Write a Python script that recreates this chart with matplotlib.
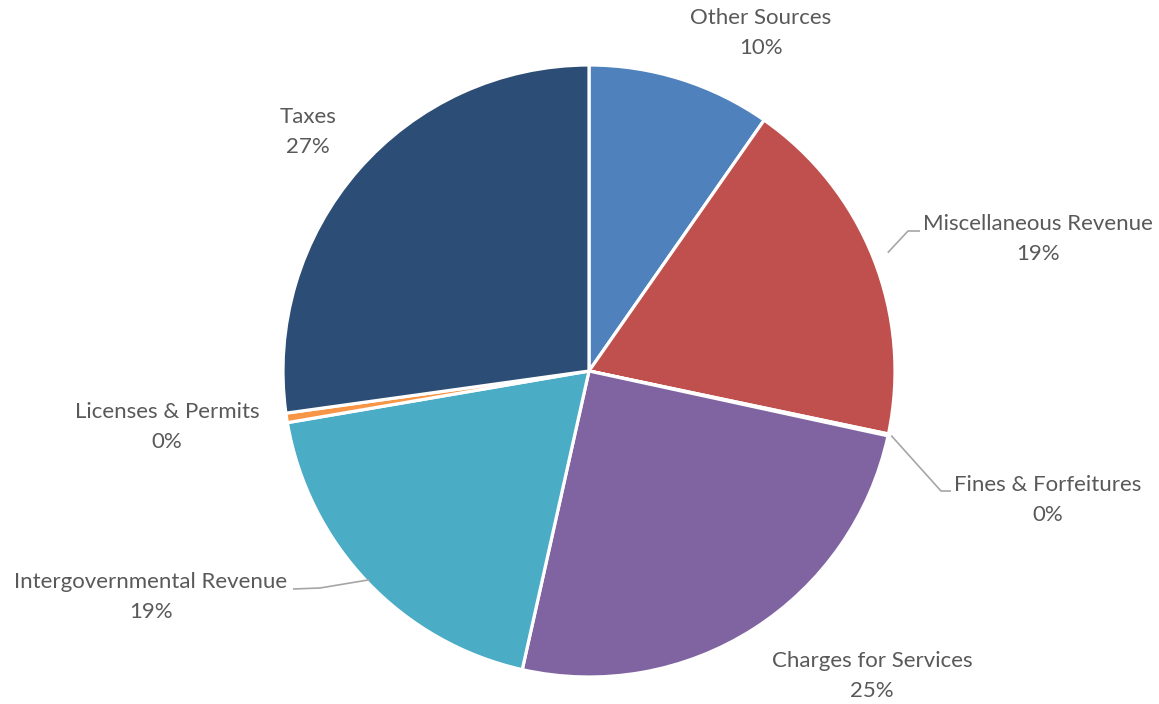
import numpy as np
import matplotlib
matplotlib.use("Agg")
import matplotlib.pyplot as plt

plt.rcParams['font.family'] = ['Lato', 'DejaVu Sans']

# Revenue share by source (percent), clockwise from 12 o'clock
categories = ["Other Sources", "Miscellaneous Revenue", "Fines & Forfeitures",
              "Charges for Services", "Intergovernmental Revenue",
              "Licenses & Permits", "Taxes"]
shares = [9.7, 18.6, 0.1, 25.1, 18.8, 0.5, 27.2]
pct_labels = ["10%", "19%", "0%", "25%", "19%", "0%", "27%"]
colors = ["#4F81BD", "#C0504D", "#9BBB59", "#8064A2", "#4BACC6", "#F79646", "#2C4D75"]

W, H = 1159, 704
fig = plt.figure(figsize=(W / 100, H / 100), dpi=100)
cx, cy, R = 589, 371, 306
ax = fig.add_axes([(cx - R) / W, (H - cy - R) / H, 2 * R / W, 2 * R / H])

ax.pie(shares, colors=colors, startangle=90, counterclock=False, radius=1,
       wedgeprops=dict(edgecolor='white', linewidth=2.3))
ax.set_xlim(-1, 1)
ax.set_ylim(-1, 1)
ax.set_aspect('equal')
ax.axis('off')

def to_data(px, py):
    return (px - cx) / R, (cy - py) / R

# label centres in pixel space
label_pos = {
    "Other Sources": (761, 33),
    "Miscellaneous Revenue": (1038, 239),
    "Fines & Forfeitures": (1048, 500),
    "Charges for Services": (872, 676),
    "Intergovernmental Revenue": (151, 597),
    "Licenses & Permits": (167, 427),
    "Taxes": (308, 132),
}
for cat, pct in zip(categories, pct_labels):
    x, y = to_data(*label_pos[cat])
    ax.text(x, y, f"{cat}\n{pct}", ha='center', va='center', fontsize=16,
            color='#595959', linespacing=1.62, clip_on=False)

# leader lines
cum = np.cumsum([0] + shares) / sum(shares)
def wedge_point(i, frac, r):
    a = 2 * np.pi * (cum[i] + frac * (cum[i + 1] - cum[i]))
    return r * np.sin(a), r * np.cos(a)

line_kw = dict(color='#A6A6A6', lw=1.2, clip_on=False, solid_capstyle='butt')
# Miscellaneous Revenue
p0 = wedge_point(1, 0.5, 1.05)
p1 = to_data(908, 231)
p2 = to_data(920, 231)
ax.plot([p0[0], p1[0], p2[0]], [p0[1], p1[1], p2[1]], **line_kw)
# Fines & Forfeitures
p0 = wedge_point(2, 0.5, 1.01)
p1 = to_data(941, 491)
p2 = to_data(951, 491)
ax.plot([p0[0], p1[0], p2[0]], [p0[1], p1[1], p2[1]], **line_kw)
# Intergovernmental Revenue
p0 = wedge_point(4, 0.5, 0.99)
p1 = to_data(320, 588)
p2 = to_data(293, 589)
ax.plot([p0[0], p1[0], p2[0]], [p0[1], p1[1], p2[1]], **line_kw)

fig.savefig("out.png", dpi=100, facecolor='white')
